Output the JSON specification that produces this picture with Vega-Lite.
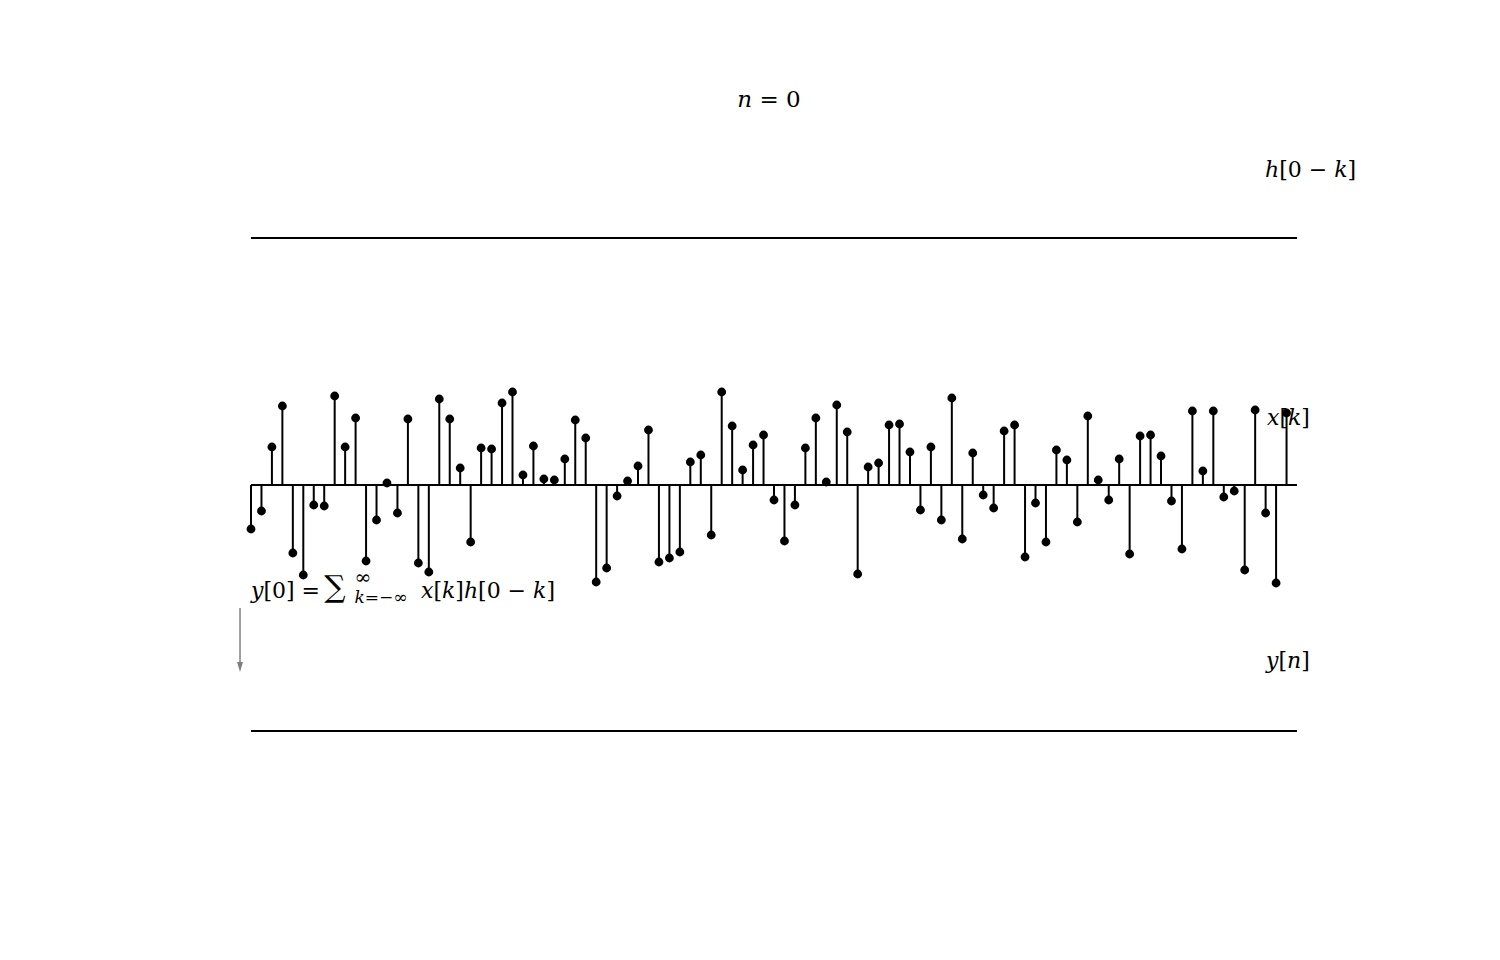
{
  "$schema": "https://vega.github.io/schema/vega-lite/v6.json",
  "width": 1500,
  "height": 960,
  "autosize": {"type": "none"},
  "padding": 0,
  "background": "white",
  "config": {"view": {"stroke": null}},
  "datasets": {
    "xk": [
      {"k":0,"x":-0.44},{"k":1,"x":-0.26},{"k":2,"x":0.38},{"k":3,"x":0.79},{"k":4,"x":-0.68},
      {"k":5,"x":-0.90},{"k":6,"x":-0.20},{"k":7,"x":-0.21},{"k":8,"x":0.89},{"k":9,"x":0.38},
      {"k":10,"x":0.67},{"k":11,"x":-0.76},{"k":12,"x":-0.35},{"k":13,"x":0.02},{"k":14,"x":-0.28},
      {"k":15,"x":0.66},{"k":16,"x":-0.78},{"k":17,"x":-0.87},{"k":18,"x":0.86},{"k":19,"x":0.66},
      {"k":20,"x":0.17},{"k":21,"x":-0.57},{"k":22,"x":0.37},{"k":23,"x":0.36},{"k":24,"x":0.82},
      {"k":25,"x":0.93},{"k":26,"x":0.10},{"k":27,"x":0.39},{"k":28,"x":0.06},{"k":29,"x":0.05},
      {"k":30,"x":0.26},{"k":31,"x":0.65},{"k":32,"x":0.47},{"k":33,"x":-0.97},{"k":34,"x":-0.83},
      {"k":35,"x":-0.11},{"k":36,"x":0.04},{"k":37,"x":0.19},{"k":38,"x":0.55},{"k":39,"x":-0.77},
      {"k":40,"x":-0.73},{"k":41,"x":-0.67},{"k":42,"x":0.23},{"k":43,"x":0.30},{"k":44,"x":-0.50},
      {"k":45,"x":0.93},{"k":46,"x":0.59},{"k":47,"x":0.15},{"k":48,"x":0.40},{"k":49,"x":0.50},
      {"k":50,"x":-0.15},{"k":51,"x":-0.56},{"k":52,"x":-0.20},{"k":53,"x":0.37},{"k":54,"x":0.67},
      {"k":55,"x":0.03},{"k":56,"x":0.80},{"k":57,"x":0.53},{"k":58,"x":-0.89},{"k":59,"x":0.18},
      {"k":60,"x":0.22},{"k":61,"x":0.60},{"k":62,"x":0.61},{"k":63,"x":0.33},{"k":64,"x":-0.25},
      {"k":65,"x":0.38},{"k":66,"x":-0.35},{"k":67,"x":0.87},{"k":68,"x":-0.54},{"k":69,"x":0.32},
      {"k":70,"x":-0.10},{"k":71,"x":-0.23},{"k":72,"x":0.54},{"k":73,"x":0.60},{"k":74,"x":-0.72},
      {"k":75,"x":-0.18},{"k":76,"x":-0.57},{"k":77,"x":0.35},{"k":78,"x":0.25},{"k":79,"x":-0.37},
      {"k":80,"x":0.69},{"k":81,"x":0.05},{"k":82,"x":-0.15},{"k":83,"x":0.26},{"k":84,"x":-0.69},
      {"k":85,"x":0.49},{"k":86,"x":0.50},{"k":87,"x":0.29},{"k":88,"x":-0.16},{"k":89,"x":-0.64},
      {"k":90,"x":0.74},{"k":91,"x":0.14},{"k":92,"x":0.74},{"k":93,"x":-0.12},{"k":94,"x":-0.06},
      {"k":95,"x":-0.85},{"k":96,"x":0.75},{"k":97,"x":-0.28},{"k":98,"x":-0.98},{"k":99,"x":0.72}
    ],
    "baselines": [
      {"signal":"h[0-k]","level":2.47},
      {"signal":"x[k]","level":0},
      {"signal":"y[n]","level":-2.46}
    ]
  },
  "layer": [
    {
      "data": {"name": "baselines"},
      "mark": {"type": "rule", "color": "black", "strokeWidth": 2},
      "encoding": {
        "x": {"datum": 0, "type": "quantitative", "scale": {"domain": [-23.996, 119.407], "zero": false, "nice": false}, "axis": null},
        "x2": {"datum": 100},
        "y": {"field": "level", "type": "quantitative", "scale": {"domain": [-4.75, 4.85], "zero": false, "nice": false}, "axis": null}
      }
    },
    {
      "data": {"name": "xk"},
      "mark": {"type": "rule", "color": "black", "strokeWidth": 2},
      "encoding": {
        "x": {"field": "k", "type": "quantitative"},
        "y": {"field": "x", "type": "quantitative"},
        "y2": {"datum": 0}
      }
    },
    {
      "data": {"name": "xk"},
      "mark": {"type": "circle", "color": "black", "opacity": 1, "size": 78},
      "encoding": {
        "x": {"field": "k", "type": "quantitative"},
        "y": {"field": "x", "type": "quantitative"}
      }
    },
    {
      "data": {"values": [{}]},
      "mark": {"type": "text", "text": "𝑛 = 0", "font": "DejaVu Serif", "fontSize": 23, "align": "center", "baseline": "alphabetic", "color": "black"},
      "encoding": {"x": {"datum": 49.52}, "y": {"datum": 3.78}}
    },
    {
      "data": {"values": [{}]},
      "mark": {"type": "text", "text": "ℎ[0 − 𝑘]", "font": "DejaVu Serif", "fontSize": 22, "align": "left", "baseline": "alphabetic", "color": "black"},
      "encoding": {"x": {"datum": 96.94}, "y": {"datum": 3.08}}
    },
    {
      "data": {"values": [{}]},
      "mark": {"type": "text", "text": "𝑥[𝑘]", "font": "DejaVu Serif", "fontSize": 22, "align": "left", "baseline": "alphabetic", "color": "black"},
      "encoding": {"x": {"datum": 97.13}, "y": {"datum": 0.6}}
    },
    {
      "data": {"values": [{}]},
      "mark": {"type": "text", "text": "𝑦[𝑛]", "font": "DejaVu Serif", "fontSize": 22, "align": "left", "baseline": "alphabetic", "color": "black"},
      "encoding": {"x": {"datum": 97.04}, "y": {"datum": -1.83}}
    },
    {
      "data": {"values": [{}]},
      "mark": {"type": "text", "text": "𝑦[0] =", "font": "DejaVu Serif", "fontSize": 22, "align": "left", "baseline": "alphabetic", "color": "black"},
      "encoding": {"x": {"datum": 0}, "y": {"datum": -1.13}}
    },
    {
      "data": {"values": [{}]},
      "mark": {"type": "text", "text": "∑", "font": "DejaVu Serif", "fontSize": 30, "align": "left", "baseline": "alphabetic", "color": "black"},
      "encoding": {"x": {"datum": 7.0}, "y": {"datum": -1.12}}
    },
    {
      "data": {"values": [{}]},
      "mark": {"type": "text", "text": "∞", "font": "DejaVu Serif", "fontSize": 20, "align": "left", "baseline": "alphabetic", "color": "black"},
      "encoding": {"x": {"datum": 9.9}, "y": {"datum": -0.985}}
    },
    {
      "data": {"values": [{}]},
      "mark": {"type": "text", "text": "𝑘=−∞", "font": "DejaVu Serif", "fontSize": 17, "align": "left", "baseline": "alphabetic", "color": "black"},
      "encoding": {"x": {"datum": 9.9}, "y": {"datum": -1.18}}
    },
    {
      "data": {"values": [{}]},
      "mark": {"type": "text", "text": "𝑥[𝑘]ℎ[0 − 𝑘]", "font": "DejaVu Serif", "fontSize": 22, "align": "left", "baseline": "alphabetic", "color": "black"},
      "encoding": {"x": {"datum": 16.25}, "y": {"datum": -1.13}}
    },
    {
      "data": {"values": [{}]},
      "mark": {"type": "rule", "color": "gray", "strokeWidth": 1.5},
      "encoding": {"x": {"datum": -1.05}, "y": {"datum": -1.23}, "y2": {"datum": -1.8}}
    },
    {
      "data": {"values": [{}]},
      "mark": {"type": "point", "shape": "M-0.6,-1L0.6,-1L0,1Z", "filled": true, "color": "gray", "opacity": 1, "size": 100},
      "encoding": {"x": {"datum": -1.05}, "y": {"datum": -1.82}}
    }
  ]
}
